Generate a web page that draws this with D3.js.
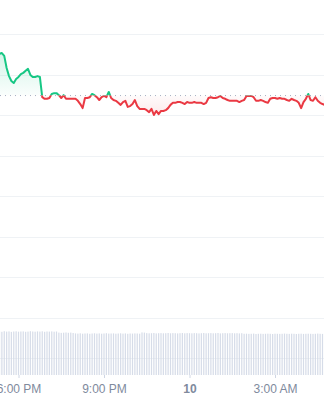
<!DOCTYPE html>
<html>
<head>
<meta charset="utf-8">
<script src="https://cdn.jsdelivr.net/npm/d3@7"></script>
<style>
  body { margin: 0; background: #fff; }
  svg { display: block; font-family: "Liberation Sans", Arial, sans-serif; }
</style>
</head>
<body>
<svg width="324" height="400"></svg>
<script>
// 5 minute candles, first one at 5:20 PM
var startTime = new Date(2024, 0, 9, 17, 20);
var stepMinutes = 5;

var prices = [
  95.1, 95.3, 94.6, 91.6, 89.6, 88.4, 87.9, 88.9, 89.4, 90.1,
  90.4, 90.9, 91.4, 89.9, 89.4, 89.4, 89.6, 89.4, 84.4, 84.0,
  84.0, 84.2, 85.2, 85.4, 85.4, 84.9, 84.2, 84.9, 84.0, 84.0,
  84.0, 84.0, 84.0, 83.5, 82.7, 81.7, 84.2, 84.2, 84.4, 85.2,
  84.9, 84.4, 83.7, 84.4, 84.7, 84.4, 85.7, 84.2, 83.7, 83.5,
  83.0, 82.5, 83.2, 83.5, 82.0, 82.2, 82.7, 83.7, 82.2, 81.5,
  81.5, 81.5, 81.2, 80.7, 81.5, 80.0, 81.0, 80.2, 81.0, 81.0,
  81.2, 81.7, 82.5, 83.0, 83.0, 83.2, 83.2, 83.0, 82.7, 83.2,
  83.0, 83.0, 83.2, 83.0, 83.0, 83.0, 82.7, 83.0, 84.2, 84.4,
  84.2, 84.2, 84.4, 84.7, 84.2, 84.0, 83.7, 83.5, 83.5, 83.5,
  83.5, 83.2, 83.5, 83.7, 84.7, 84.7, 84.7, 84.4, 83.5, 83.5,
  83.7, 83.5, 83.2, 83.0, 84.0, 84.2, 84.2, 84.0, 84.2, 84.0,
  84.0, 83.7, 83.5, 84.0, 83.7, 83.5, 83.0, 81.7, 83.2, 84.0,
  85.2, 83.7, 83.5, 84.4, 83.5, 83.0, 82.7, 82.5
];

var volumes = [
  43.5, 43.2, 43.8, 43.4, 43.6, 43.1, 43.5, 43.7, 43.3, 43.5,
  43.6, 43.2, 43.4, 43.8, 43.5, 43.3, 43.6, 43.4, 43.7, 43.2,
  43.5, 43.4, 43.6, 43.3, 43.5, 42.4, 42.1, 42.3, 42.5, 42.2,
  42.4, 42.0, 41.6, 41.4, 41.7, 41.3, 41.5, 41.6, 41.2, 41.5,
  41.7, 41.4, 41.6, 41.3, 41.5, 41.8, 41.4, 41.5, 41.6, 41.3,
  41.5, 41.7, 41.4, 41.6, 41.2, 41.5, 41.4, 41.6, 41.5, 41.3,
  42.6, 42.4, 41.9, 41.7, 41.8, 42.0, 41.6, 41.8, 41.9, 41.7,
  41.8, 42.0, 41.7, 41.9, 41.8, 41.6, 41.8, 42.0, 41.7, 41.9,
  41.8, 41.7, 41.9, 41.8, 41.6, 41.8, 42.0, 41.7, 41.8, 41.9,
  41.7, 41.8, 42.0, 41.6, 41.8, 41.9, 41.7, 41.8, 41.9, 41.7,
  41.8, 41.6, 41.8, 41.2, 41.3, 41.1, 41.2, 41.4, 41.0, 41.2,
  41.3, 41.1, 41.2, 41.3, 41.2, 41.0, 41.3, 41.2, 41.1, 41.2,
  41.4, 41.2, 41.1, 41.3, 41.2, 41.0, 41.2, 41.3, 41.1, 41.2,
  41.3, 41.2, 41.1, 41.2, 41.4, 41.2, 41.1, 41.2
];

var openPrice = 84.8;
var priceTicks = [100, 90, 80, 70, 60, 50, 40, 30, 20];
var timeTicks = [
  new Date(2024, 0, 9, 18, 0),
  new Date(2024, 0, 9, 21, 0),
  new Date(2024, 0, 10, 0, 0),
  new Date(2024, 0, 10, 3, 0)
];
var tickLabels = ["6:00 PM", "9:00 PM", "10", "3:00 AM"];

var svg = d3.select("svg");

var data = prices.map(function(p, i) {
  return { t: d3.timeMinute.offset(startTime, i * stepMinutes), price: p, vol: volumes[i] };
});

var x = d3.scaleTime()
  .domain([timeTicks[1], timeTicks[3]])
  .range([104, 275]);
var y = d3.scaleLinear().domain([100, 20]).range([34, 358]);
var yVol = d3.scaleLinear().domain([0, 44]).range([375, 331]);

var baseY = y(openPrice);

var defs = svg.append("defs");

defs.append("clipPath").attr("id", "above")
  .append("rect").attr("x", 0).attr("y", 0).attr("width", 324).attr("height", baseY);
defs.append("clipPath").attr("id", "below")
  .append("rect").attr("x", 0).attr("y", baseY).attr("width", 324).attr("height", 400 - baseY);

var gUp = defs.append("linearGradient").attr("id", "gradUp")
  .attr("gradientUnits", "userSpaceOnUse")
  .attr("x1", 0).attr("x2", 0).attr("y1", 50).attr("y2", baseY);
gUp.append("stop").attr("offset", 0).attr("stop-color", "#16c784").attr("stop-opacity", 0.2);
gUp.append("stop").attr("offset", 1).attr("stop-color", "#16c784").attr("stop-opacity", 0.02);

var gDown = defs.append("linearGradient").attr("id", "gradDown")
  .attr("gradientUnits", "userSpaceOnUse")
  .attr("x1", 0).attr("x2", 0).attr("y1", baseY).attr("y2", 118);
gDown.append("stop").attr("offset", 0).attr("stop-color", "#ea3943").attr("stop-opacity", 0.02);
gDown.append("stop").attr("offset", 1).attr("stop-color", "#ea3943").attr("stop-opacity", 0.12);

// grid
svg.append("g")
  .selectAll("line")
  .data(priceTicks)
  .enter().append("line")
  .attr("x1", 0).attr("x2", 324)
  .attr("y1", function(d) { return Math.round(y(d)) + 0.5; })
  .attr("y2", function(d) { return Math.round(y(d)) + 0.5; })
  .attr("stroke", "#eff2f5");

// volume
svg.append("g")
  .selectAll("rect")
  .data(data)
  .enter().append("rect")
  .attr("x", function(d) { return x(d.t) - 0.6; })
  .attr("width", 1.2)
  .attr("y", function(d) { return yVol(d.vol); })
  .attr("height", function(d) { return yVol(0) - yVol(d.vol); })
  .attr("fill", "#cfd6e4")
  .attr("fill-opacity", 0.85);

var area = d3.area()
  .x(function(d) { return x(d.t); })
  .y0(baseY)
  .y1(function(d) { return y(d.price); });

var line = d3.line()
  .x(function(d) { return x(d.t); })
  .y(function(d) { return y(d.price); });

svg.append("path").datum(data)
  .attr("d", area).attr("fill", "url(#gradUp)").attr("clip-path", "url(#above)");
svg.append("path").datum(data)
  .attr("d", area).attr("fill", "url(#gradDown)").attr("clip-path", "url(#below)");

// open price reference
svg.append("line")
  .attr("x1", 0).attr("x2", 324)
  .attr("y1", baseY).attr("y2", baseY)
  .attr("stroke", "#a6b0c3")
  .attr("stroke-width", 1)
  .attr("stroke-dasharray", "1,4");

svg.append("path").datum(data)
  .attr("d", line)
  .attr("fill", "none")
  .attr("stroke", "#16c784")
  .attr("stroke-width", 2)
  .attr("stroke-linejoin", "round")
  .attr("clip-path", "url(#above)");
svg.append("path").datum(data)
  .attr("d", line)
  .attr("fill", "none")
  .attr("stroke", "#ea3943")
  .attr("stroke-width", 2)
  .attr("stroke-linejoin", "round")
  .attr("clip-path", "url(#below)");

// time axis
var axis = svg.append("g")
  .attr("transform", "translate(0,375)")
  .call(d3.axisBottom(x)
    .tickValues(timeTicks)
    .tickFormat(function(d, i) { return tickLabels[i]; })
    .tickSize(3)
    .tickPadding(6));

axis.select(".domain").remove();
axis.selectAll(".tick line").attr("stroke", "#cfd6e4");
axis.selectAll(".tick text")
  .attr("fill", "#808a9d")
  .style("font-size", "12px")
  .style("font-family", "'Liberation Sans', Arial, sans-serif")
  .style("font-weight", function(d, i) { return tickLabels[i] === "10" ? "bold" : "normal"; });
</script>
</body>
</html>
